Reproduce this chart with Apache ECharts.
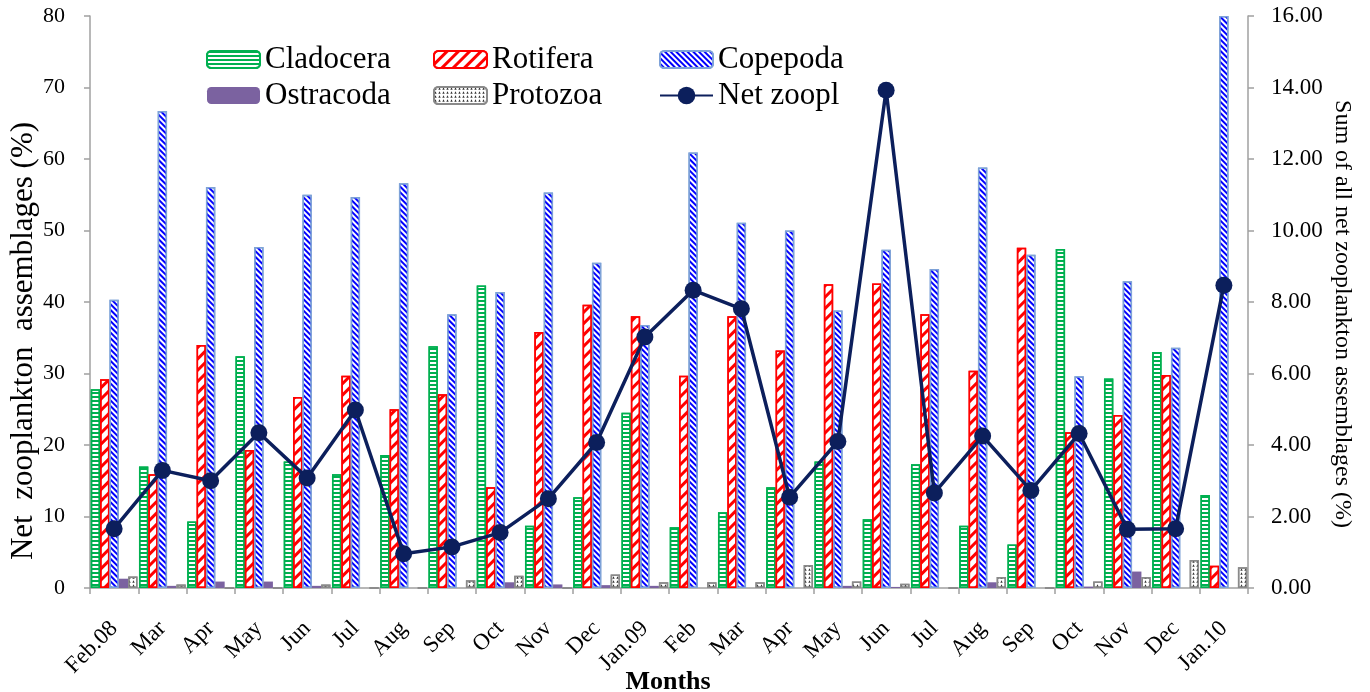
<!DOCTYPE html>
<html>
<head>
<meta charset="utf-8">
<script src="https://cdn.jsdelivr.net/npm/echarts@6/dist/echarts.min.js"></script>
<style>html,body{margin:0;padding:0;background:#fff;}#c{width:1370px;height:692px;}</style>
</head>
<body>
<div id="c"></div>
<script>
const months = ['Feb.08','Mar','Apr','May','Jun','Jul','Aug','Sep','Oct','Nov','Dec','Jan.09','Feb','Mar','Apr','May','Jun','Jul','Aug','Sep','Oct','Nov','Dec','Jan.10'];
const cladocera = [27.8,17.0,9.3,32.4,17.7,15.9,18.6,33.8,42.3,8.7,12.7,24.5,8.5,10.6,14.1,17.7,9.6,17.3,8.7,6.1,47.4,29.3,33.0,13.0];
const rotifera  = [29.2,15.9,34.0,19.3,26.7,29.7,25.0,27.1,14.1,35.8,39.6,38.0,29.7,38.0,33.2,42.5,42.6,38.3,30.4,47.6,21.8,24.2,29.8,3.1];
const copepoda  = [40.3,66.7,56.1,47.7,55.0,54.7,56.6,38.3,41.4,55.3,45.5,36.8,60.9,51.1,50.0,38.8,47.3,44.6,58.8,46.6,29.6,42.9,33.6,80.0];
const ostracoda = [1.3,0.3,0.9,0.9,0.3,0,0,0,0.8,0.5,0.4,0.3,0,0,0,0.3,0.15,0,0.8,0,0.2,2.3,0,0];
const protozoa  = [1.6,0.5,0,0,0.5,0,0,1.1,1.7,0,1.9,0.8,0.8,0.8,3.2,0.9,0.6,0,1.55,0,0.9,1.55,3.9,2.9];
const netZoopl  = [1.66,3.29,3.00,4.34,3.08,4.98,0.96,1.15,1.55,2.50,4.07,7.02,8.33,7.81,2.54,4.10,13.92,2.66,4.25,2.73,4.32,1.64,1.66,8.47];
const leftTitle = 'Net  zooplankton  assemblages (%)';
const rightTitle = 'Sum of all net zooplankton assemblages (%)';
const xTitle = 'Months';

const serif = 'Liberation Serif';
const chart = echarts.init(document.getElementById('c'));
const legendText = {fontFamily: serif, fontSize: 31, color: '#000', lineHeight: 27};
function legendAt(left, top, names, h) {
  return {
    orient: 'vertical', left: left, top: top, itemWidth: 53, itemHeight: h || 17, itemGap: 5,
    textStyle: legendText, data: names, selectedMode: false
  };
}
chart.setOption({
  animation: false,
  aria: {enabled: true, decal: {show: true}, label: {enabled: false}},
  grid: {left: 90, right: 122, top: 16, bottom: 104, containLabel: false, outerBoundsMode: 'none'},
  legend: [
    legendAt(201, 39, ['Cladocera', 'Ostracoda']),
    legendAt(428, 39, ['Rotifera', 'Protozoa']),
    legendAt(654, 39, ['Copepoda']),
    legendAt(654, 75, ['Net zoopl'], 22)
  ],
  graphic: [
    {type: 'text', x: 24, y: 341, rotation: Math.PI / 2,
      style: {text: leftTitle, fontFamily: serif, fontSize: 31, fill: '#000', textAlign: 'center', textVerticalAlign: 'middle'}},
    {type: 'text', x: 1342, y: 314, rotation: -Math.PI / 2,
      style: {text: rightTitle, fontFamily: serif, fontSize: 24, fill: '#000', textAlign: 'center', textVerticalAlign: 'middle'}},
    {type: 'text', x: 668, y: 669,
      style: {text: xTitle, fontFamily: serif, fontSize: 26, fontWeight: 'bold', fill: '#000', textAlign: 'center', textVerticalAlign: 'top'}}
  ],
  xAxis: {
    type: 'category', data: months,
    axisLine: {lineStyle: {color: '#a0a0a0', width: 1.5}},
    axisTick: {show: true, length: 6, lineStyle: {color: '#a0a0a0', width: 1.5}},
    axisLabel: {rotate: 45, fontFamily: serif, fontSize: 23, color: '#000', margin: 37, interval: 0}
  },
  yAxis: [
    {
      type: 'value', min: 0, max: 80, interval: 10,
      axisLine: {show: true, lineStyle: {color: '#a0a0a0', width: 1.5}},
      axisTick: {show: true, length: 6, lineStyle: {color: '#a0a0a0', width: 1.5}},
      splitLine: {show: false},
      axisLabel: {fontFamily: serif, fontSize: 22, color: '#000', margin: 25}
    },
    {
      type: 'value', min: 0, max: 16, interval: 2, position: 'right',
      axisLine: {show: true, lineStyle: {color: '#a0a0a0', width: 1.5}},
      axisTick: {show: true, length: 6, lineStyle: {color: '#a0a0a0', width: 1.5}},
      splitLine: {show: false},
      axisLabel: {fontFamily: serif, fontSize: 23, color: '#000', margin: 23,
        formatter: v => v.toFixed(2)}
    }
  ],
  series: [
    {name: 'Cladocera', type: 'bar', data: cladocera, barGap: '0%', barCategoryGap: '3%',
      itemStyle: {color: '#ffffff', borderColor: '#00b050', borderWidth: 1.5,
        decal: {symbol: 'rect', symbolSize: 1, dashArrayX: [1, 0], dashArrayY: [2, 2], rotation: 0, color: '#00b050'}}},
    {name: 'Rotifera', type: 'bar', data: rotifera,
      itemStyle: {color: '#ffffff', borderColor: '#ff0000', borderWidth: 1.5,
        decal: {symbol: 'rect', symbolSize: 1, dashArrayX: [1, 0], dashArrayY: [3, 5], rotation: -Math.PI / 4, color: '#ff0000'}}},
    {name: 'Copepoda', type: 'bar', data: copepoda,
      itemStyle: {color: '#ffffff', borderColor: '#7ea2d8', borderWidth: 1.5,
        decal: {symbol: 'rect', symbolSize: 1, dashArrayX: [1, 0], dashArrayY: [2, 2], rotation: Math.PI / 4, color: '#0000ff'}}},
    {name: 'Ostracoda', type: 'bar', data: ostracoda,
      itemStyle: {color: '#7b62a0', borderColor: '#7b62a0', borderWidth: 0,
        decal: {symbol: 'none'}}},
    {name: 'Protozoa', type: 'bar', data: protozoa,
      itemStyle: {color: '#ffffff', borderColor: '#8a8a8a', borderWidth: 1.5,
        decal: {symbol: 'triangle', symbolSize: 0.8, dashArrayX: [3, 1], dashArrayY: [3, 1], rotation: 0, color: '#333333'}}},
    {name: 'Net zoopl', type: 'line', yAxisIndex: 1, data: netZoopl, z: 10,
      symbol: 'circle', symbolSize: 17,
      lineStyle: {color: '#0c1f5c', width: 3.5},
      itemStyle: {color: '#0c1f5c', decal: {symbol: 'none'}}}
  ]
});
</script>
</body>
</html>
